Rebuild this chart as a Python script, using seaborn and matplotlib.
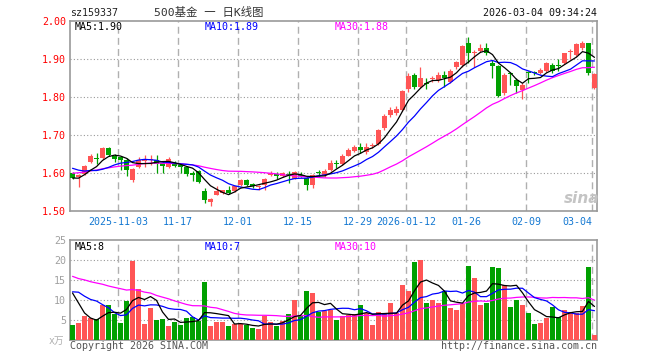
import numpy as np
import pandas as pd
import matplotlib
matplotlib.use("Agg")
import matplotlib.pyplot as plt
import seaborn as sns

# ---------------- data ----------------
opens = [1.599, 1.590, 1.597, 1.628, 1.639, 1.639, 1.667, 1.646, 1.643, 1.634,
         1.581, 1.617, 1.632, 1.633, 1.634, 1.627, 1.617, 1.625, 1.622, 1.615,
         1.597, 1.604, 1.552, 1.524, 1.543, 1.548, 1.555, 1.552, 1.568, 1.581,
         1.572, 1.564, 1.568, 1.594, 1.598, 1.591, 1.598, 1.585, 1.596, 1.587,
         1.568, 1.601, 1.594, 1.608, 1.625, 1.623, 1.646, 1.658, 1.668, 1.656,
         1.672, 1.676, 1.719, 1.753, 1.757, 1.766, 1.821, 1.858, 1.827, 1.837,
         1.848, 1.845, 1.858, 1.839, 1.878, 1.884, 1.941, 1.917, 1.922, 1.928,
         1.890, 1.882, 1.810, 1.862, 1.846, 1.818, 1.864, 1.864, 1.864, 1.868,
         1.884, 1.883, 1.889, 1.919, 1.911, 1.928, 1.941, 1.825]
highs = [1.602, 1.598, 1.620, 1.649, 1.652, 1.669, 1.668, 1.650, 1.646, 1.640,
         1.613, 1.643, 1.648, 1.647, 1.647, 1.632, 1.641, 1.632, 1.625, 1.619,
         1.605, 1.608, 1.561, 1.534, 1.565, 1.556, 1.566, 1.567, 1.583, 1.583,
         1.574, 1.569, 1.587, 1.604, 1.602, 1.602, 1.604, 1.606, 1.603, 1.591,
         1.598, 1.607, 1.610, 1.633, 1.634, 1.650, 1.667, 1.675, 1.678, 1.678,
         1.678, 1.716, 1.755, 1.775, 1.777, 1.818, 1.862, 1.864, 1.880, 1.849,
         1.856, 1.867, 1.868, 1.875, 1.896, 1.937, 1.957, 1.924, 1.939, 1.941,
         1.897, 1.884, 1.862, 1.867, 1.849, 1.836, 1.869, 1.869, 1.876, 1.893,
         1.890, 1.899, 1.917, 1.926, 1.941, 1.948, 1.943, 1.862]
lows = [1.583, 1.562, 1.594, 1.626, 1.625, 1.637, 1.645, 1.628, 1.607, 1.593,
        1.577, 1.614, 1.617, 1.620, 1.599, 1.600, 1.613, 1.615, 1.600, 1.593,
        1.578, 1.574, 1.521, 1.514, 1.541, 1.545, 1.544, 1.550, 1.566, 1.566,
        1.560, 1.556, 1.556, 1.591, 1.585, 1.589, 1.574, 1.583, 1.590, 1.556,
        1.561, 1.592, 1.590, 1.605, 1.614, 1.621, 1.644, 1.654, 1.652, 1.649,
        1.665, 1.674, 1.713, 1.748, 1.753, 1.764, 1.814, 1.821, 1.823, 1.821,
        1.840, 1.840, 1.827, 1.836, 1.875, 1.880, 1.889, 1.880, 1.919, 1.911,
        1.849, 1.801, 1.805, 1.832, 1.811, 1.796, 1.836, 1.858, 1.861, 1.866,
        1.864, 1.869, 1.887, 1.899, 1.909, 1.925, 1.858, 1.822]
closes = [1.586, 1.596, 1.618, 1.646, 1.638, 1.667, 1.647, 1.637, 1.634, 1.608,
          1.611, 1.634, 1.637, 1.636, 1.624, 1.619, 1.637, 1.619, 1.615, 1.597,
          1.596, 1.577, 1.530, 1.532, 1.552, 1.554, 1.547, 1.565, 1.582, 1.568,
          1.566, 1.565, 1.584, 1.600, 1.591, 1.600, 1.594, 1.603, 1.591, 1.569,
          1.596, 1.600, 1.606, 1.626, 1.624, 1.646, 1.661, 1.668, 1.660, 1.668,
          1.674, 1.713, 1.750, 1.766, 1.768, 1.816, 1.856, 1.827, 1.849, 1.835,
          1.850, 1.858, 1.849, 1.869, 1.893, 1.934, 1.915, 1.918, 1.928, 1.915,
          1.882, 1.803, 1.858, 1.860, 1.829, 1.831, 1.863, 1.863, 1.870, 1.890,
          1.869, 1.882, 1.915, 1.920, 1.939, 1.941, 1.862, 1.860]
volumes = [3.75, 4.3, 6.1, 5.4, 5.25, 8.7, 8.75, 6.6, 4.3, 9.75,
           19.8, 12.75, 4.0, 8.0, 5.0, 5.25, 3.5, 4.5, 3.75, 5.5,
           5.75, 4.75, 14.5, 3.5, 4.5, 4.5, 3.5, 4.0, 4.0, 3.75,
           3.0, 2.75, 6.0, 4.5, 3.5, 4.75, 6.5, 10.0, 6.0, 12.25,
           11.75, 7.0, 7.25, 7.6, 5.1, 5.9, 6.3, 6.5, 8.8, 6.75,
           3.8, 7.0, 6.75, 9.25, 6.75, 13.8, 12.3, 19.5, 20.1, 9.25,
           10.1, 9.25, 12.3, 8.0, 7.6, 9.0, 18.6, 15.5, 8.8, 9.25,
           18.25, 18.0, 13.8, 8.25, 10.1, 8.8, 6.75, 4.0, 4.25, 5.5,
           8.25, 5.75, 7.6, 7.0, 6.75, 8.6, 18.25, 1.3]
# sessions before the visible window (not drawn, only feed the moving averages)
close_history = [1.552, 1.561, 1.558, 1.570, 1.566, 1.575, 1.563, 1.571, 1.568, 1.579,
                 1.562, 1.579, 1.605, 1.622, 1.630, 1.641, 1.636, 1.628, 1.645, 1.643,
                 1.645, 1.642, 1.630, 1.640, 1.633, 1.598, 1.572, 1.588, 1.590]
volume_history = [21, 16, 19, 15, 18, 22, 17, 14, 20, 16, 19, 17, 15, 23, 18, 16, 20, 17, 19, 15,
                  5.25, 16.1, 13.5, 9.25, 17.6, 16.75, 18.6, 11.7, 7.95]
tick_session = [8, 18, 28, 38, 48, 56, 66, 76, 87]
tick_labels = ["2025-11-03", "11-17", "12-01", "12-15", "12-29",
               "2026-01-12", "01-26", "02-09", "03-04"]
price_ticks = [1.50, 1.60, 1.70, 1.80, 1.90, 2.00]
volume_ticks = [5, 10, 15, 20, 25]
code = "sz159337"
title = "500基金 一 日K线图"
stamp = "2026-03-04 09:34:24"

# ---------------- derived ----------------
n = len(closes)
idx = np.arange(n)
o = np.array(opens); c = np.array(closes); h = np.array(highs); l = np.array(lows)
v = np.array(volumes)
up = c >= o
RED, GREEN = "#ff5555", "#00a000"
BLUE_TXT = "#1478d2"
colors = np.where(up, RED, GREEN)

def ma(hist, vals, w):
    s = pd.Series(list(hist) + list(vals)).rolling(w, min_periods=1).mean()
    return s.to_numpy()[len(hist):]

pm = {w: ma(close_history, closes, w) for w in (5, 10, 30)}
vm = {w: ma(volume_history, volumes, w) for w in (5, 10, 30)}

sns.set_theme(style="white")
MONO = "DejaVu Sans Mono"
plt.rcParams["font.family"] = [MONO, "Noto Sans CJK SC"]

W, H = 660, 360
fig = plt.figure(figsize=(6.6, 3.6), dpi=100)
fig.patch.set_facecolor("white")

def rect(lft, top, rgt, bot):
    return [lft / W, 1 - bot / H, (rgt - lft) / W, (bot - top) / H]

ax = fig.add_axes(rect(70, 21, 597, 211))
axv = fig.add_axes(rect(70, 240, 597, 340))

XL = (-0.42, n - 1 + 0.42)
grid_x = [t - 0.38 for t in tick_session]
FS = 7.2

# ---- price panel ----
ax.vlines(idx, l, h, colors=colors, lw=0.9, zorder=3)
body_bot = np.minimum(o, c)
body_h = np.maximum(np.abs(c - o), 0.0027)
ax.bar(idx, body_h, bottom=body_bot, width=0.8, color=colors, linewidth=0, zorder=4)
for w, col in ((30, "#ff00ff"), (10, "#0000ff"), (5, "black")):
    sns.lineplot(x=idx, y=pm[w], color=col, lw=0.9, ax=ax, zorder=5, estimator=None)

for y in price_ticks[1:-1]:
    ax.axhline(y, color="#999999", lw=0.8, ls=(0, (1, 2)), zorder=1)
for gx in grid_x:
    ax.axvline(gx, color="#b0b0b0", lw=1.0, ls=(0, (5, 3)), zorder=1)
ax.set_xlim(*XL)
ax.set_ylim(1.5, 2.0)
ax.set_yticks(price_ticks)
ax.set_yticklabels([f"{t:.2f}" for t in price_ticks])
ax.set_xticks(grid_x)
ax.set_xticklabels(tick_labels)
ax.get_xticklabels()[-1].set_ha("right")
ax.tick_params(axis="y", length=0, pad=3, labelsize=FS, labelcolor="red")
ax.tick_params(axis="x", length=0, pad=4, labelsize=FS, labelcolor=BLUE_TXT)
ax.set_xlabel(""); ax.set_ylabel("")
for sp in ax.spines.values():
    sp.set_color("#999999"); sp.set_linewidth(1.2); sp.set_visible(True)

# ---- volume panel ----
dfv = pd.DataFrame({"i": idx, "vol": v, "dir": np.where(up, "up", "down")})
sns.barplot(data=dfv, x="i", y="vol", hue="dir", palette={"up": RED, "down": GREEN},
            dodge=False, native_scale=True, width=0.8, saturation=1, errorbar=None,
            linewidth=0, legend=False, ax=axv, zorder=3)
for w, col in ((30, "#ff00ff"), (10, "#0000ff"), (5, "black")):
    sns.lineplot(x=idx, y=vm[w], color=col, lw=0.9, ax=axv, zorder=5, estimator=None)
for y in volume_ticks[:-1]:
    axv.axhline(y, color="#999999", lw=0.8, ls=(0, (1, 2)), zorder=1)
for gx in grid_x:
    axv.axvline(gx, color="#b0b0b0", lw=1.0, ls=(0, (5, 3)), zorder=1)
axv.set_xlim(*XL)
axv.set_ylim(0, 25)
axv.set_yticks(volume_ticks)
axv.set_yticklabels([str(t) for t in volume_ticks])
axv.set_xticks([])
axv.tick_params(axis="y", length=0, pad=3, labelsize=FS, labelcolor="#a0a0a0")
axv.set_xlabel(""); axv.set_ylabel("")
for sp in axv.spines.values():
    sp.set_color("#999999"); sp.set_linewidth(1.2); sp.set_visible(True)

# ---- texts ----
def ptext(x, y, s, **kw):
    kw.setdefault("va", "center")
    kw.setdefault("fontsize", FS)
    fig.text(x / W, 1 - y / H, s, **kw)

ptext(70, 12.5, code, ha="left", color="#222222")
ptext(209, 12.5, title, ha="center", color="#333333", fontsize=8.2)
ptext(597, 12.5, stamp, ha="right", color="#111111")

ptext(74.5, 26.5, f"MA5:{pm[5][-1]:.2f}", ha="left", color="black")
ptext(204.5, 26.5, f"MA10:{pm[10][-1]:.2f}", ha="left", color="#0000ff")
ptext(334.5, 26.5, f"MA30:{pm[30][-1]:.2f}", ha="left", color="#ff00ff")

ptext(74.5, 246.5, f"MA5:{vm[5][-1]:.0f}", ha="left", color="black")
ptext(204.5, 246.5, f"MA10:{vm[10][-1]:.0f}", ha="left", color="#0000ff")
ptext(334.5, 246.5, f"MA30:{vm[30][-1]:.0f}", ha="left", color="#ff00ff")

ptext(64, 341, "x万", ha="right", color="#b0b0b0", fontsize=7)
ptext(70, 346, "Copyright 2026 SINA.COM", ha="left", color="#555555")
ptext(597, 346, "http://finance.sina.com.cn", ha="right", color="#555555")
ptext(582, 198, "sina", ha="center", color="#c4c4c4", fontsize=11,
      style="italic", weight="bold", family="DejaVu Sans")

fig.savefig("out.png", dpi=100)
